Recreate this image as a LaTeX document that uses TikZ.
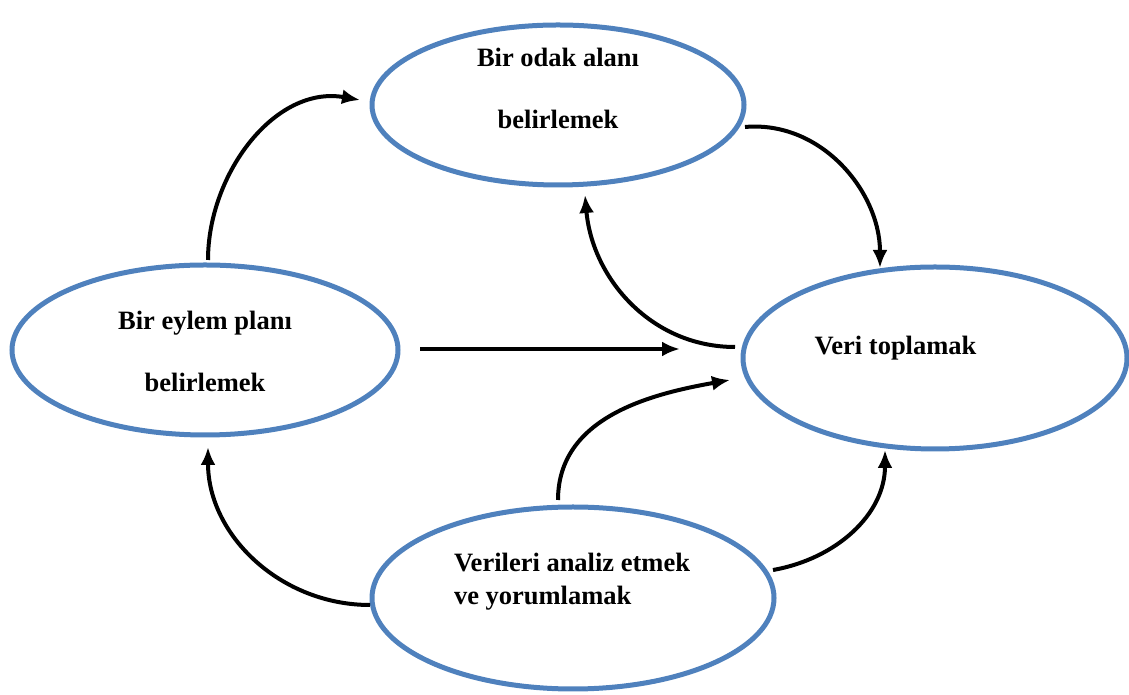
\documentclass[tikz,border=0pt]{standalone}
\usepackage{fontspec}
\setmainfont{Liberation Serif}
\usetikzlibrary{shapes.geometric,arrows.meta,calc}
\definecolor{ellblue}{HTML}{4F81BD}
\begin{document}
\begin{tikzpicture}[x=1pt,y=1pt,
  ell/.style={ellipse,draw=ellblue,line width=5pt,inner sep=0pt},
  lbl/.style={font=\fontsize{26.5}{33}\selectfont\bfseries,inner sep=0pt},
  arr/.style={line width=4pt,-{Latex[length=18pt,width=15pt]}}]
\useasboundingbox (0,0) rectangle (1129,695);
% ellipses
\node[ell,minimum width=372pt,minimum height=160pt] (T) at (558,590) {};
\node[ell,minimum width=386pt,minimum height=170pt] (L) at (205,345) {};
\node[ell,minimum width=384pt,minimum height=182pt] (R) at (935,337) {};
\node[ell,minimum width=402pt,minimum height=182pt] (B) at (573,97) {};
% labels
\node[lbl,align=center] (Tt) at ($(T)+(0,17)$) {Bir odak alanı\\[29pt]belirlemek};
\node[lbl,align=center] (Lt) at ($(L)+(0,-1)$) {Bir eylem planı\\[29pt]belirlemek};
\node[lbl,anchor=west] (Rt) at ($(R.west)+(74,10)$) {Veri toplamak};
\node[lbl,align=left] (Bt) at ($(B)+(-1,16)$) {Verileri analiz etmek\\ve yorumlamak};
% arrow ends
\coordinate (a1s) at (208,435); \coordinate (a1e) at (360,595);
\coordinate (a2s) at (745,568); \coordinate (a2e) at (880,427);
\coordinate (a3s) at (735,348); \coordinate (a3e) at (585,500);
\coordinate (a4s) at (420,346); \coordinate (a4e) at (680,346);
\coordinate (a5s) at (558,195); \coordinate (a5e) at (730,315);
\coordinate (a6s) at (773,125); \coordinate (a6e) at (885,245);
\coordinate (a7s) at (370,90);  \coordinate (a7e) at (208,248);
% arrows
\draw[arr] (a1s) to[out=90,in=170] (a1e);
\draw[arr] (a2s) to[out=5,in=90] (a2e);
\draw[arr] (a3s) to[out=180,in=-85] (a3e);
\draw[arr] (a4s) -- (a4e);
\draw[arr] (a5s) to[out=90,in=190] (a5e);
\draw[arr] (a6s) to[out=10,in=-90] (a6e);
\draw[arr] (a7s) to[out=180,in=-90] (a7e);
\end{tikzpicture}
\end{document}
